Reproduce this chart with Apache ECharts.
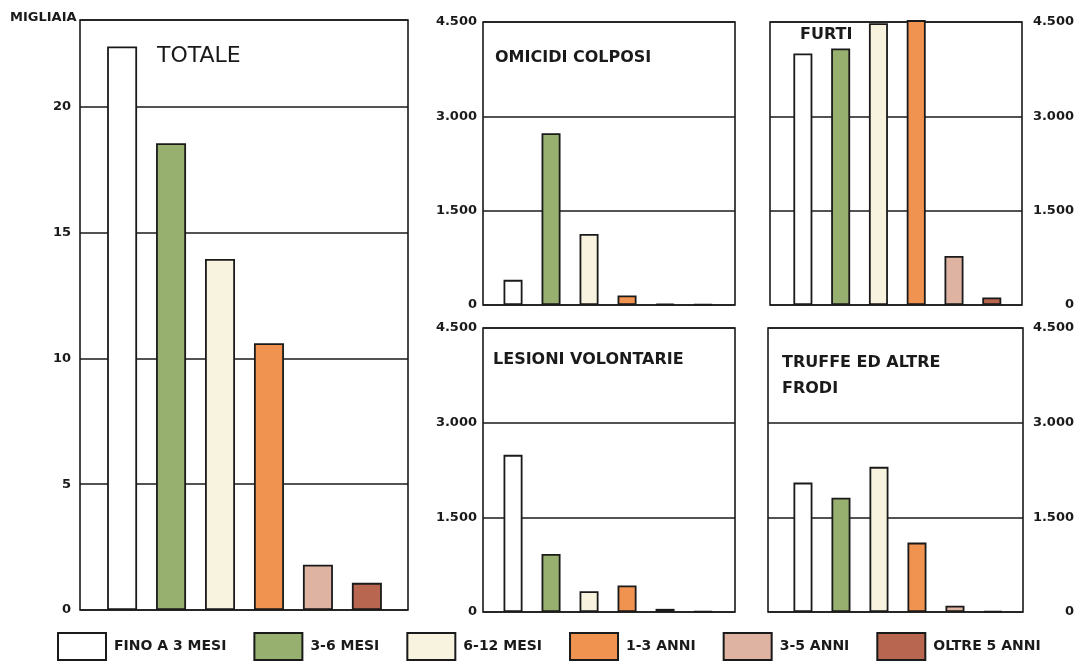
<!DOCTYPE html>
<html>
<head>
<meta charset="utf-8">
<script src="https://cdn.jsdelivr.net/npm/echarts@6/dist/echarts.min.js"></script>
<style>
  html, body { margin: 0; padding: 0; background: #fff; }
  #chart { width: 1081px; height: 661px; }
</style>
</head>
<body>
<div id="chart"></div>
<script>
// classi di durata
var classes = ['FINO A 3 MESI', '3-6 MESI', '6-12 MESI', '1-3 ANNI', '3-5 ANNI', 'OLTRE 5 ANNI']
var colors = ['#ffffff', '#97b06f', '#f8f3df', '#f19350', '#dfb3a2', '#b8664f']

// totale in migliaia, gli altri in unita'
var totale = [22.4, 18.55, 13.95, 10.6, 1.8, 1.08]
var omicidiColposi = [400, 2730, 1130, 150, 20, 10]
var furti = [4000, 4080, 4480, 4530, 780, 120]
var lesioniVolontarie = [2490, 920, 330, 420, 50, 10]
var truffe = [2050, 1810, 2300, 1100, 100, 15]

var totaleTicks = [0, 5, 10, 15, 20]
var panelTicks = [0, 1500, 3000, 4500]

var ink = '#1a1a1a'
var font = 'DejaVu Sans'

function fmt(v) {
  return String(v).replace(/\B(?=(\d{3})+(?!\d))/g, '.')
}

var panels = [
  { values: totale, ticks: totaleTicks, max: 23.45, interval: 5, pos: 'left', margin: 9,
    grid: { left: 80, top: 20, width: 328, height: 590 }, barWidth: 30, xmin: -0.86, xmax: 5.84 },
  { values: omicidiColposi, ticks: panelTicks, max: 4500, interval: 1500, pos: 'left', margin: 6,
    grid: { left: 483, top: 22, width: 252, height: 283 }, barWidth: 19, xmin: -0.79, xmax: 5.84 },
  { values: furti, ticks: panelTicks, max: 4500, interval: 1500, pos: 'right', margin: 52,
    grid: { left: 770, top: 22, width: 252, height: 283 }, barWidth: 19, xmin: -0.87, xmax: 5.8 },
  { values: lesioniVolontarie, ticks: panelTicks, max: 4500, interval: 1500, pos: 'left', margin: 6,
    grid: { left: 483, top: 328, width: 252, height: 284 }, barWidth: 19, xmin: -0.79, xmax: 5.84 },
  { values: truffe, ticks: panelTicks, max: 4500, interval: 1500, pos: 'right', margin: 51,
    grid: { left: 768, top: 328, width: 255, height: 284 }, barWidth: 19, xmin: -0.92, xmax: 5.79 }
]

var grids = [], xAxes = [], yAxes = [], series = []
panels.forEach(function (p, i) {
  grids.push(Object.assign({ show: true, borderColor: ink, borderWidth: 1.6 }, p.grid))
  xAxes.push({ type: 'value', gridIndex: i, min: p.xmin, max: p.xmax, show: false })
  yAxes.push({
    type: 'value',
    gridIndex: i,
    position: p.pos,
    min: 0,
    max: p.max,
    interval: p.interval,
    axisLine: { show: false },
    axisTick: { show: false },
    axisLabel: {
      margin: p.margin,
      align: 'right',
      color: ink,
      fontFamily: font,
      fontWeight: 'bold',
      fontSize: 13,
      formatter: function (v) {
        return p.ticks.indexOf(v) >= 0 ? fmt(v) : ''
      }
    },
    splitLine: { lineStyle: { color: ink, width: 1.5 } }
  })
  p.values.forEach(function (v, k) {
    series.push({
      type: 'bar',
      name: classes[k],
      xAxisIndex: i,
      yAxisIndex: i,
      data: [[k, v]],
      barWidth: p.barWidth,
      barGap: '-100%',
      clip: false,
      silent: true,
      itemStyle: { color: colors[k], borderColor: ink, borderWidth: 1.8 }
    })
  })
})

function label(text, left, top, size, weight) {
  return {
    text: text,
    left: left,
    top: top,
    padding: 0,
    textStyle: { color: ink, fontFamily: font, fontSize: size, fontWeight: weight, lineHeight: 26 }
  }
}

var chart = echarts.init(document.getElementById('chart'))
chart.setOption({
  animation: false,
  backgroundColor: '#fff',
  title: [
    label('MIGLIAIA', 10, 5, 13, 'bold'),
    label('TOTALE', 157, 43, 22, 'normal'),
    label('OMICIDI COLPOSI', 495, 45, 16, 'bold'),
    label('FURTI', 800, 22, 16, 'bold'),
    label('LESIONI VOLONTARIE', 493, 347, 16, 'bold'),
    label('TRUFFE ED ALTRE\nFRODI', 782, 350, 16, 'bold')
  ],
  legend: {
    data: classes,
    left: 57,
    top: 632,
    padding: 0,
    icon: 'rect',
    itemWidth: 48,
    itemHeight: 27,
    itemGap: 27,
    selectedMode: false,
    textStyle: { color: ink, fontFamily: font, fontWeight: 'bold', fontSize: 14, padding: [0, 0, 0, 3] }
  },
  grid: grids,
  xAxis: xAxes,
  yAxis: yAxes,
  series: series
})
</script>
</body>
</html>
